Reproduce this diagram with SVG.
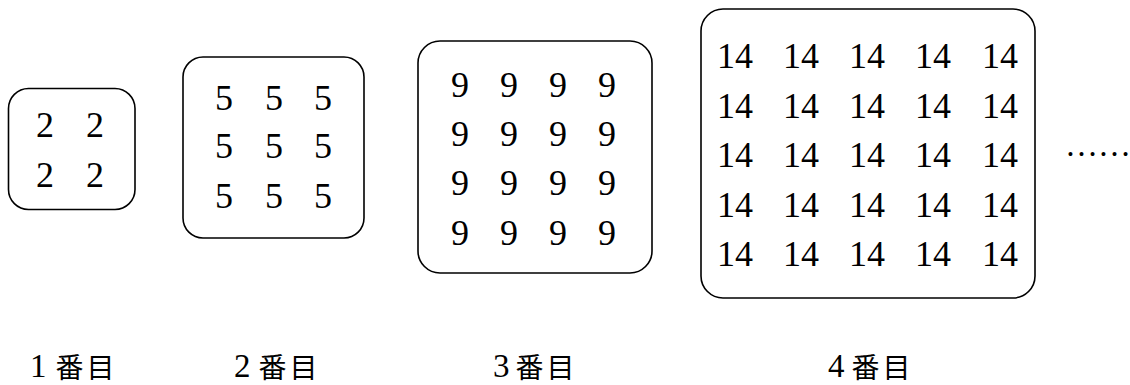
<svg xmlns="http://www.w3.org/2000/svg" width="1130" height="385" viewBox="0 0 1130 385">
<style>
.box{fill:#fff;stroke:#000;stroke-width:1.6}
.n{font-family:'Liberation Serif','Tinos','DejaVu Serif',serif;font-size:36px;fill:#000;text-anchor:middle}
.lbl{font-family:'Liberation Serif','DejaVu Serif',serif;font-size:33px;fill:#000}
.cjk{font-family:'Noto Sans CJK JP','Noto Sans CJK SC',sans-serif;font-size:28px;letter-spacing:3px}
.dots{font-family:'Liberation Serif','DejaVu Serif',serif;font-size:33px;fill:#000}
</style>
<rect width="1130" height="385" fill="#fff"/>
<g id="connectors"></g>
<g id="n1">
<rect class="box" x="8.5" y="88.5" width="126.5" height="121" rx="20"/>
<text class="n" x="45" y="137">2</text><text class="n" x="95" y="137">2</text>
<text class="n" x="45" y="187">2</text><text class="n" x="95" y="187">2</text>
<text class="lbl" x="30" y="377">1<tspan class="cjk" x="55.5" y="378">番目</tspan></text>
</g>
<g id="n2">
<rect class="box" x="183" y="57" width="181" height="181" rx="20"/>
<text class="n" x="224" y="110">5</text><text class="n" x="274" y="110">5</text><text class="n" x="323" y="110">5</text>
<text class="n" x="224" y="158">5</text><text class="n" x="274" y="158">5</text><text class="n" x="323" y="158">5</text>
<text class="n" x="224" y="208">5</text><text class="n" x="274" y="208">5</text><text class="n" x="323" y="208">5</text>
<text class="lbl" x="234" y="377">2<tspan class="cjk" x="258.5" y="378">番目</tspan></text>
</g>
<g id="n3">
<rect class="box" x="418" y="41" width="234" height="232" rx="22"/>
<text class="n" x="460" y="97">9</text><text class="n" x="509" y="97">9</text><text class="n" x="558" y="97">9</text><text class="n" x="607" y="97">9</text>
<text class="n" x="460" y="146">9</text><text class="n" x="509" y="146">9</text><text class="n" x="558" y="146">9</text><text class="n" x="607" y="146">9</text>
<text class="n" x="460" y="195">9</text><text class="n" x="509" y="195">9</text><text class="n" x="558" y="195">9</text><text class="n" x="607" y="195">9</text>
<text class="n" x="460" y="245">9</text><text class="n" x="509" y="245">9</text><text class="n" x="558" y="245">9</text><text class="n" x="607" y="245">9</text>
<text class="lbl" x="493" y="377">3<tspan class="cjk" x="515.5" y="378">番目</tspan></text>
</g>
<g id="n4">
<rect class="box" x="701" y="9" width="334" height="289" rx="22"/>
<text class="n" x="735" y="68">14</text><text class="n" x="801" y="68">14</text><text class="n" x="867" y="68">14</text><text class="n" x="933" y="68">14</text><text class="n" x="1000" y="68">14</text>
<text class="n" x="735" y="117.5">14</text><text class="n" x="801" y="117.5">14</text><text class="n" x="867" y="117.5">14</text><text class="n" x="933" y="117.5">14</text><text class="n" x="1000" y="117.5">14</text>
<text class="n" x="735" y="167">14</text><text class="n" x="801" y="167">14</text><text class="n" x="867" y="167">14</text><text class="n" x="933" y="167">14</text><text class="n" x="1000" y="167">14</text>
<text class="n" x="735" y="216.5">14</text><text class="n" x="801" y="216.5">14</text><text class="n" x="867" y="216.5">14</text><text class="n" x="933" y="216.5">14</text><text class="n" x="1000" y="216.5">14</text>
<text class="n" x="735" y="266">14</text><text class="n" x="801" y="266">14</text><text class="n" x="867" y="266">14</text><text class="n" x="933" y="266">14</text><text class="n" x="1000" y="266">14</text>
<text class="lbl" x="828" y="377">4<tspan class="cjk" x="851.5" y="378">番目</tspan></text>
</g>
<g id="ellipsis">
<text class="dots" x="1065" y="156">……</text>
</g>
</svg>
